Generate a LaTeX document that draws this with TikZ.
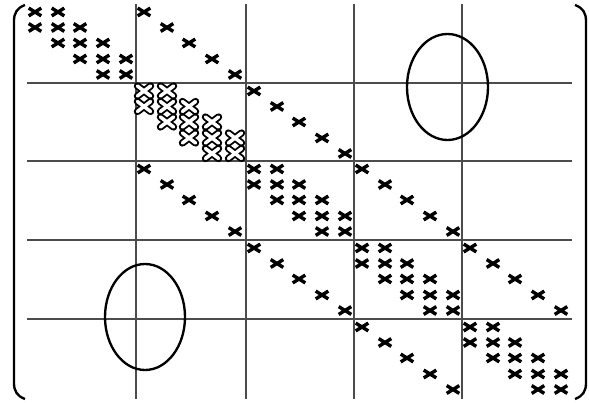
\documentclass[tikz,border=0pt]{standalone}
\usepackage{tikz}

% Block grid: left/top edges of the five block columns and rows,
% and the offsets of the five entries inside one block.
\def\colx{{27,136,246,354,462}}
\def\rowy{{4,83,161,240,319}}
\def\offx{{8,31,53,76,99}}
\def\offy{{8,23.5,39,55,70.5}}

% One nonzero entry: block row, block column, row, column,
% half width, half height, style.
\newcommand{\blockmark}[7]{%
  \pgfmathsetmacro\ex{\colx[#2]+\offx[#4]}%
  \pgfmathsetmacro\ey{\rowy[#1]+\offy[#3]}%
  \draw[#7] (\ex-#5,\ey-#6) -- (\ex+#5,\ey+#6)
            (\ex-#5,\ey+#6) -- (\ex+#5,\ey-#6);}

\begin{document}
\begin{tikzpicture}[x=0.03cm, y=-0.03cm,
    % Thin lines splitting the matrix into 5x5 blocks.
    gridline/.style={line width=1.1pt, color=black!70},
    % Nonzero entries: plain crosses.
    xmark/.style={line width=2.9pt, color=black},
    % Highlighted block: outlined crosses.
    hollowmark/.style={line width=1.6pt, double=white,
                       double distance=3pt, line cap=round},
    % Matrix delimiters and the two marked regions.
    bracket/.style={line width=2pt},
    ring/.style={line width=2pt}
]
    \useasboundingbox (0,0) rectangle (589,403);

    % === Block grid ===
    \foreach \x in {136,246,354,462}
        \draw[gridline] (\x,4) -- (\x,399);
    \foreach \y in {83,161,240,319}
        \draw[gridline] (27,\y) -- (572,\y);

    % === Diagonal blocks: tridiagonal pattern ===
    \foreach \b in {0,2,3,4}
        \foreach \r/\c in {0/0,0/1,1/0,1/1,1/2,2/1,2/2,2/3,3/2,3/3,3/4,4/3,4/4}
            {\blockmark{\b}{\b}{\r}{\c}{6.3}{3.9}{xmark}}

    % Second diagonal block drawn with outlined crosses.
    \foreach \r/\c in {0/0,0/1,1/0,1/1,1/2,2/1,2/2,2/3,3/2,3/3,3/4,4/3,4/4}
        {\blockmark{1}{1}{\r}{\c}{6.6}{5}{hollowmark}}

    % === Off-diagonal blocks: one diagonal each ===
    % Upper side: blocks right of the diagonal.
    \foreach \b in {0,...,3}
        \foreach \k in {0,...,4}
            {\blockmark{\b}{\b+1}{\k}{\k}{6.3}{3.9}{xmark}}
    % Lower side: the block below the first one stays empty.
    \foreach \b in {1,2,3}
        \foreach \k in {0,...,4}
            {\blockmark{\b+1}{\b}{\k}{\k}{6.3}{3.9}{xmark}}

    % === Marked regions ===
    \draw[ring] (447.5,87) ellipse [x radius=40.5, y radius=53];
    \draw[ring] (145,317) ellipse [x radius=40, y radius=53];

    % === Delimiters ===
    \draw[bracket] (25,5) .. controls (17,8) and (14,13) .. (14,21)
        -- (14,383) .. controls (14,391) and (17,396) .. (25,399);
    \draw[bracket] (575,5) .. controls (583,8) and (586,13) .. (586,21)
        -- (586,383) .. controls (586,391) and (583,396) .. (575,399);

\end{tikzpicture}
\end{document}
